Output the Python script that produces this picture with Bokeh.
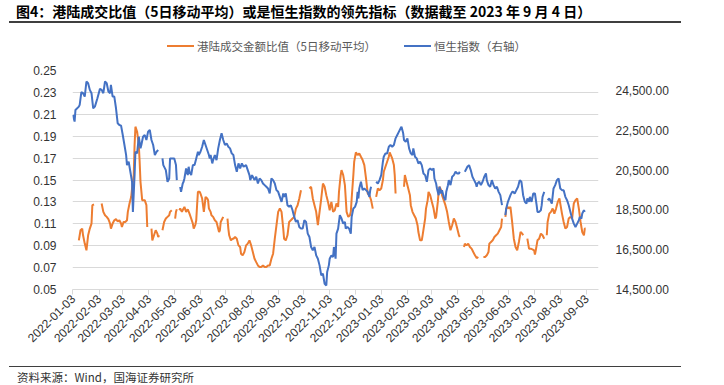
import math
import numpy as np
import pandas as pd
from bokeh.plotting import figure
from bokeh.layouts import column
from bokeh.models import (Range1d, LinearAxis, FixedTicker, DatetimeTickFormatter,
                          NumeralTickFormatter, Div)
from bokeh.embed import file_html
from bokeh.resources import INLINE

# ---------------- texts ----------------
title_text = "图4：港陆成交比值（5日移动平均）或是恒生指数的领先指标（数据截至 2023 年 9 月 4 日）"
source_text = "资料来源：Wind，国海证券研究所"
ratio_name = "港陆成交金额比值（5日移动平均）"
hsi_name = "恒生指数（右轴）"

# ---------------- axes ----------------
x_tick_labels = ["2022-01-03", "2022-02-03", "2022-03-03", "2022-04-03", "2022-05-03",
                 "2022-06-03", "2022-07-03", "2022-08-03", "2022-09-03", "2022-10-03",
                 "2022-11-03", "2022-12-03", "2023-01-03", "2023-02-03", "2023-03-03",
                 "2023-04-03", "2023-05-03", "2023-06-03", "2023-07-03", "2023-08-03",
                 "2023-09-03"]
left_ticks = [0.05, 0.07, 0.09, 0.11, 0.13, 0.15, 0.17, 0.19, 0.21, 0.23, 0.25]
right_ticks = [14500, 16500, 18500, 20500, 22500, 24500]

# ---------------- series: HK/mainland turnover ratio (5d MA) ----------------
ratio_dates = [
    "2022-01-10", "2022-01-12", "2022-01-14", "2022-01-15", "2022-01-17", "2022-01-19", "2022-01-21", "2022-01-23", "2022-01-25", "2022-01-26", "2022-01-28",
    "2022-02-01", "2022-02-06", "2022-02-08", "2022-02-10", "2022-02-12", "2022-02-14", "2022-02-16", "2022-02-17", "2022-02-19", "2022-02-21", "2022-02-23", "2022-02-25", "2022-02-27",
    "2022-03-01", "2022-03-02", "2022-03-04", "2022-03-06", "2022-03-08", "2022-03-09", "2022-03-11", "2022-03-13", "2022-03-14", "2022-03-16", "2022-03-17", "2022-03-18", "2022-03-20", "2022-03-22", "2022-03-23", "2022-03-24", "2022-03-26", "2022-03-28", "2022-03-29", "2022-03-31",
    "2022-04-01", "2022-04-03", "2022-04-06", "2022-04-07", "2022-04-09", "2022-04-11", "2022-04-13", "2022-04-14", "2022-04-15", "2022-04-17", "2022-04-19", "2022-04-21", "2022-04-23", "2022-04-25", "2022-04-27", "2022-04-28", "2022-04-30",
    "2022-05-02", "2022-05-04", "2022-05-05", "2022-05-06", "2022-05-08", "2022-05-09", "2022-05-10", "2022-05-12", "2022-05-14", "2022-05-15", "2022-05-17", "2022-05-19", "2022-05-21", "2022-05-23", "2022-05-25", "2022-05-26", "2022-05-28", "2022-05-29", "2022-05-30", "2022-05-31",
    "2022-06-02", "2022-06-03", "2022-06-05", "2022-06-06", "2022-06-07", "2022-06-08", "2022-06-09", "2022-06-11", "2022-06-12", "2022-06-13", "2022-06-15", "2022-06-16", "2022-06-18", "2022-06-20", "2022-06-22", "2022-06-23", "2022-06-25", "2022-06-26", "2022-06-27", "2022-06-29", "2022-06-30",
    "2022-07-02", "2022-07-05", "2022-07-06", "2022-07-07", "2022-07-09", "2022-07-11", "2022-07-12", "2022-07-14", "2022-07-16", "2022-07-18", "2022-07-20", "2022-07-21", "2022-07-23", "2022-07-25", "2022-07-27", "2022-07-29", "2022-07-31",
    "2022-08-02", "2022-08-04", "2022-08-06", "2022-08-08", "2022-08-10", "2022-08-12", "2022-08-14", "2022-08-16", "2022-08-18", "2022-08-20", "2022-08-22", "2022-08-24", "2022-08-26", "2022-08-28", "2022-08-30",
    "2022-09-01", "2022-09-03", "2022-09-05", "2022-09-07", "2022-09-09", "2022-09-10", "2022-09-12", "2022-09-14", "2022-09-16", "2022-09-18", "2022-09-20", "2022-09-22", "2022-09-24", "2022-09-26", "2022-09-28", "2022-09-30",
    "2022-10-02", "2022-10-10", "2022-10-12", "2022-10-14", "2022-10-16", "2022-10-18", "2022-10-20", "2022-10-22", "2022-10-24", "2022-10-26", "2022-10-28", "2022-10-30",
    "2022-11-01", "2022-11-03", "2022-11-05", "2022-11-07", "2022-11-09", "2022-11-11", "2022-11-13", "2022-11-14", "2022-11-16", "2022-11-17", "2022-11-19", "2022-11-21", "2022-11-22", "2022-11-23", "2022-11-25", "2022-11-27", "2022-11-28", "2022-11-29",
    "2022-12-01", "2022-12-02", "2022-12-04", "2022-12-06", "2022-12-08", "2022-12-10", "2022-12-12", "2022-12-14", "2022-12-16", "2022-12-18", "2022-12-20", "2022-12-22", "2022-12-24", "2022-12-26", "2022-12-28", "2022-12-30",
    "2023-01-01", "2023-01-03", "2023-01-05", "2023-01-06", "2023-01-08", "2023-01-10", "2023-01-12", "2023-01-13", "2023-01-16", "2023-01-18", "2023-01-19", "2023-01-20", "2023-01-23", "2023-01-30", "2023-01-31",
    "2023-02-02", "2023-02-04", "2023-02-06", "2023-02-07", "2023-02-09", "2023-02-11", "2023-02-13", "2023-02-15", "2023-02-16", "2023-02-18", "2023-02-20", "2023-02-21", "2023-02-24", "2023-02-25", "2023-02-27", "2023-02-28",
    "2023-03-02", "2023-03-04", "2023-03-06", "2023-03-08", "2023-03-09", "2023-03-11", "2023-03-12", "2023-03-13", "2023-03-15", "2023-03-16", "2023-03-18", "2023-03-20", "2023-03-22", "2023-03-24", "2023-03-26", "2023-03-28", "2023-03-30",
    "2023-04-01", "2023-04-03", "2023-04-05", "2023-04-06", "2023-04-08", "2023-04-11", "2023-04-12", "2023-04-14", "2023-04-16", "2023-04-18", "2023-04-20", "2023-04-22", "2023-04-24", "2023-04-26", "2023-04-28",
    "2023-05-01", "2023-05-04", "2023-05-06", "2023-05-08", "2023-05-10", "2023-05-11", "2023-05-13", "2023-05-15", "2023-05-17", "2023-05-19", "2023-05-21", "2023-05-23", "2023-05-25", "2023-05-26", "2023-05-28", "2023-05-30", "2023-05-31",
    "2023-06-02", "2023-06-03", "2023-06-05", "2023-06-07", "2023-06-09", "2023-06-11", "2023-06-13", "2023-06-15", "2023-06-17", "2023-06-19", "2023-06-20", "2023-06-22", "2023-06-25", "2023-06-27", "2023-06-29",
    "2023-07-01", "2023-07-03", "2023-07-04", "2023-07-05", "2023-07-07", "2023-07-09", "2023-07-11", "2023-07-13", "2023-07-15", "2023-07-17", "2023-07-18", "2023-07-19", "2023-07-21", "2023-07-23", "2023-07-25", "2023-07-27", "2023-07-29", "2023-07-31",
    "2023-08-02", "2023-08-03", "2023-08-05", "2023-08-07", "2023-08-09", "2023-08-11", "2023-08-13", "2023-08-15", "2023-08-17", "2023-08-19", "2023-08-21", "2023-08-23", "2023-08-25", "2023-08-27", "2023-08-29", "2023-08-31",
    "2023-09-01", "2023-09-02",
]
ratio_values = [
    0.0949, 0.1041, 0.1056, 0.0995, 0.0919, 0.0858, 0.0995, 0.1056, 0.1102, 0.1270, 0.1276,
    None, 0.1285, 0.1209, 0.1178, 0.1163, 0.1142, 0.1102, 0.1056, 0.1102, 0.1132, 0.1142, 0.1123, 0.1132,
    0.1102, 0.1071, 0.1117, 0.1117, 0.1132, 0.1209, 0.1285, 0.1346, 0.1422, 0.1545, 0.1819, 0.1987, 0.1941, 0.1819, 0.1667, 0.1483, 0.1316, 0.1316, 0.1316, 0.1270,
    0.1071, None, 0.1056, 0.0949, 0.0995, 0.1041, 0.1010, 0.0980, 0.0995, None, 0.1041, 0.1117, 0.1148, 0.1163, 0.1178, 0.1209, 0.1224,
    None, 0.1148, 0.1209, 0.1233, None, 0.1224, 0.1239, 0.1209, 0.1239, 0.1255, 0.1209, 0.1233, 0.1193, 0.1148, 0.1102, 0.1056, 0.1093, 0.1132, 0.1270, 0.1392,
    0.1392, 0.1377, 0.1331, 0.1270, 0.1209, 0.1270, 0.1346, 0.1331, 0.1316, 0.1239, 0.1209, 0.1178, 0.1163, 0.1132, 0.1117, 0.1087, 0.1025, 0.1041, 0.1117, 0.1148, 0.1163,
    None, 0.1148, 0.1056, 0.0995, 0.0949, 0.0964, 0.0964, 0.0980, 0.0964, 0.0903, 0.0888, 0.0827, 0.0812, 0.0842, 0.0903, 0.0919, 0.0949,
    0.0903, 0.0842, 0.0781, 0.0750, 0.0720, 0.0705, 0.0705, 0.0720, 0.0705, 0.0705, 0.0720, 0.0720, 0.0781, 0.0827, 0.0964,
    0.1087, 0.1209, 0.1239, 0.1209, 0.1056, 0.0964, 0.0949, 0.0995, 0.1117, 0.1132, 0.1148, 0.1163, 0.1239, 0.1270, 0.1331, 0.1407,
    None, 0.1422, 0.1438, 0.1331, 0.1270, 0.1209, 0.1087, 0.1209, 0.1331, 0.1468, 0.1438, 0.1361,
    0.1300, 0.1224, 0.1300, 0.1209, 0.1224, 0.1285, 0.1255, 0.1392, 0.1545, 0.1590, 0.1545, 0.1453, 0.1331, 0.1209, 0.1163, 0.1178, 0.1209, 0.1331,
    0.1545, 0.1667, 0.1752, 0.1728, 0.1743, 0.1712, 0.1682, 0.1636, 0.1514, 0.1377, 0.1361, 0.1316, 0.1239, None, 0.1346, 0.1422,
    0.1407, 0.1422, 0.1499, 0.1575, 0.1621, 0.1667, 0.1712, 0.1752, 0.1697, 0.1636, 0.1545, 0.1377, None, 0.1438, 0.1545,
    0.1483, 0.1422, 0.1361, 0.1270, 0.1209, 0.1178, 0.1148, 0.1087, 0.1025, 0.0949, 0.0949, 0.0995, 0.1148, 0.1239, 0.1316, 0.1392,
    0.1361, 0.1300, 0.1239, 0.1148, 0.1163, 0.1300, 0.1392, 0.1438, 0.1407, 0.1361, 0.1316, 0.1270, 0.1209, 0.1117, 0.1041, 0.1087, 0.1148,
    0.1117, 0.1056, 0.0995, 0.0980, None, 0.0888, 0.0919, 0.0903, 0.0919, 0.0888, 0.0873, 0.0842, 0.0812, 0.0787, 0.0797,
    None, 0.0797, 0.0797, 0.0812, 0.0842, 0.0919, 0.0934, 0.0949, 0.0980, 0.0995, 0.1010, 0.1041, 0.1071, 0.1148, None, 0.1163, 0.1239,
    0.1255, 0.1239, 0.1255, 0.1117, 0.0964, 0.0888, 0.0858, 0.0934, 0.1025, 0.1010, 0.0995, None, 0.0964, 0.0873, 0.0873,
    0.0867, 0.0858, 0.0818, 0.0858, 0.0949, 0.0964, 0.1010, 0.0995, 0.0964, None, 0.0995, 0.1117, 0.1193, 0.1209, 0.1239, 0.1193, 0.1239, 0.1300,
    0.1331, 0.1285, 0.1193, 0.1117, 0.1056, 0.1071, 0.1148, 0.1163, 0.1148, 0.1285, 0.1316, 0.1331, 0.1239, 0.1117, 0.1025, 0.0995,
    0.1056, 0.1056,
]

# ---------------- series: Hang Seng Index (right axis) ----------------
hsi_dates = [
    "2022-01-03", "2022-01-05", "2022-01-06", "2022-01-10", "2022-01-11", "2022-01-13", "2022-01-15", "2022-01-17", "2022-01-19", "2022-01-21", "2022-01-23", "2022-01-25", "2022-01-27", "2022-01-29",
    "2022-02-01", "2022-02-04", "2022-02-06", "2022-02-08", "2022-02-10", "2022-02-12", "2022-02-14", "2022-02-16", "2022-02-17", "2022-02-19", "2022-02-21", "2022-02-23", "2022-02-25", "2022-02-27",
    "2022-03-01", "2022-03-03", "2022-03-05", "2022-03-07", "2022-03-08", "2022-03-10", "2022-03-12", "2022-03-14", "2022-03-15", "2022-03-17", "2022-03-18", "2022-03-20", "2022-03-22", "2022-03-24", "2022-03-25", "2022-03-27", "2022-03-29", "2022-03-31",
    "2022-04-02", "2022-04-04", "2022-04-06", "2022-04-08", "2022-04-10", "2022-04-12", "2022-04-14", "2022-04-17", "2022-04-19", "2022-04-20", "2022-04-23", "2022-04-25", "2022-04-27", "2022-04-28",
    "2022-05-01", "2022-05-03", "2022-05-05", "2022-05-06", "2022-05-08", "2022-05-10", "2022-05-11", "2022-05-13", "2022-05-14", "2022-05-15", "2022-05-17", "2022-05-19", "2022-05-20", "2022-05-21", "2022-05-23", "2022-05-25", "2022-05-27", "2022-05-29", "2022-05-31",
    "2022-06-01", "2022-06-03", "2022-06-05", "2022-06-07", "2022-06-09", "2022-06-11", "2022-06-13", "2022-06-14", "2022-06-15", "2022-06-17", "2022-06-18", "2022-06-20", "2022-06-22", "2022-06-24", "2022-06-26", "2022-06-28", "2022-06-30",
    "2022-07-02", "2022-07-04", "2022-07-06", "2022-07-08", "2022-07-10", "2022-07-12", "2022-07-14", "2022-07-16", "2022-07-18", "2022-07-20", "2022-07-22", "2022-07-24", "2022-07-27", "2022-07-29", "2022-07-31",
    "2022-08-01", "2022-08-03", "2022-08-04", "2022-08-06", "2022-08-08", "2022-08-10", "2022-08-12", "2022-08-14", "2022-08-16", "2022-08-18", "2022-08-20", "2022-08-22", "2022-08-24", "2022-08-26", "2022-08-28", "2022-08-30",
    "2022-09-01", "2022-09-03", "2022-09-05", "2022-09-07", "2022-09-09", "2022-09-10", "2022-09-12", "2022-09-14", "2022-09-16", "2022-09-18", "2022-09-20", "2022-09-22", "2022-09-24", "2022-09-26", "2022-09-28", "2022-09-30",
    "2022-10-02", "2022-10-04", "2022-10-06", "2022-10-08", "2022-10-10", "2022-10-12", "2022-10-14", "2022-10-16", "2022-10-18", "2022-10-20", "2022-10-22", "2022-10-24", "2022-10-26", "2022-10-28", "2022-10-30", "2022-10-31",
    "2022-11-02", "2022-11-03", "2022-11-05", "2022-11-07", "2022-11-08", "2022-11-10", "2022-11-11", "2022-11-13", "2022-11-15", "2022-11-17", "2022-11-19", "2022-11-21", "2022-11-22", "2022-11-24", "2022-11-26", "2022-11-28", "2022-11-29",
    "2022-12-01", "2022-12-03", "2022-12-05", "2022-12-06", "2022-12-07", "2022-12-08", "2022-12-10", "2022-12-12", "2022-12-14", "2022-12-16", "2022-12-18", "2022-12-20", "2022-12-21", "2022-12-22", "2022-12-25", "2022-12-28", "2022-12-30",
    "2023-01-01", "2023-01-03", "2023-01-05", "2023-01-06", "2023-01-08", "2023-01-10", "2023-01-12", "2023-01-14", "2023-01-16", "2023-01-18", "2023-01-20", "2023-01-22", "2023-01-24", "2023-01-26", "2023-01-27", "2023-01-29", "2023-01-30",
    "2023-02-01", "2023-02-03", "2023-02-05", "2023-02-07", "2023-02-09", "2023-02-10", "2023-02-12", "2023-02-14", "2023-02-16", "2023-02-18", "2023-02-20", "2023-02-22", "2023-02-24", "2023-02-26", "2023-02-28",
    "2023-03-02", "2023-03-04", "2023-03-06", "2023-03-07", "2023-03-09", "2023-03-10", "2023-03-12", "2023-03-13", "2023-03-15", "2023-03-16", "2023-03-18", "2023-03-20", "2023-03-21", "2023-03-23", "2023-03-24", "2023-03-26", "2023-03-28", "2023-03-30",
    "2023-04-01", "2023-04-03", "2023-04-05", "2023-04-06", "2023-04-08", "2023-04-12", "2023-04-14", "2023-04-15", "2023-04-17", "2023-04-19", "2023-04-21", "2023-04-23", "2023-04-25", "2023-04-26", "2023-04-27", "2023-04-29",
    "2023-05-01", "2023-05-03", "2023-05-05", "2023-05-07", "2023-05-08", "2023-05-10", "2023-05-12", "2023-05-14", "2023-05-16", "2023-05-18", "2023-05-20", "2023-05-22", "2023-05-24", "2023-05-26", "2023-05-28", "2023-05-30", "2023-05-31",
    "2023-06-02", "2023-06-05", "2023-06-07", "2023-06-08", "2023-06-10", "2023-06-12", "2023-06-14", "2023-06-16", "2023-06-18", "2023-06-19", "2023-06-20", "2023-06-22", "2023-06-24", "2023-06-25", "2023-06-27", "2023-06-28", "2023-06-30",
    "2023-07-02", "2023-07-04", "2023-07-06", "2023-07-07", "2023-07-09", "2023-07-11", "2023-07-12", "2023-07-13", "2023-07-15", "2023-07-17", "2023-07-19", "2023-07-21", "2023-07-23", "2023-07-24", "2023-07-26", "2023-07-28", "2023-07-30",
    "2023-08-01", "2023-08-03", "2023-08-05", "2023-08-07", "2023-08-09", "2023-08-11", "2023-08-13", "2023-08-15", "2023-08-17", "2023-08-19", "2023-08-21", "2023-08-23", "2023-08-25", "2023-08-26", "2023-08-28", "2023-08-29", "2023-08-31",
    "2023-09-01",
]
hsi_values = [
    23267, 22932, 23519, 23687, 23771, 24409, 24359, 24191, 24947, 24863, 24527, 24359, 23603, 23687,
    24107, 24577, 24527, 24359, 24947, 24863, 24443, 24359, 24779, 24191, 24191, 23603, 22848, 22764,
    22730, 22260, 21756, 21253, 20749, 20917, 20413, 19910, 18399, 20245, 21421, 21337, 22176, 21589, 21756, 22176, 22260, 22008,
    22428, 22512, 22008, 21756, 21253, 21421, 21505, None, 21085, 20749, 20497, 19910, 20077, 21085,
    21085, 21085, 20749, 19993, None, 19658, 19406, 19826, 19910, 20077, 20581, 20245, 20665, 20413, 20245, 20749, 20749, 21085, 21421,
    21253, 21421, 21672, 22008, 21756, 21505, 21253, 21085, 21253, 20833, 21001, 21253, 21001, 21589, 22008, 22344, 22008,
    21756, 21840, 21672, 21589, 21337, 21253, 20749, 20413, 20833, 20581, 20833, 20665, 20749, 20497, 20245,
    19993, 20245, 20161, 19993, 20161, 19826, 20077, 19993, 19826, 19742, 19658, 19574, 19322, 20077, 19993, 19826,
    19490, 19406, 19154, 18902, 19322, 19154, 19322, 18734, 18650, 18734, 18482, 18146, 17895, 17979, 17643, 17559,
    17559, 17979, 17895, 17307, 17139, 16635, 16468, 16635, 16216, 16048, 15712, 15208, 15292, 14789, 14705, 15376,
    15712, 16048, 16216, 16132, 16635, 16048, 17307, 17559, 18230, 18063, 17811, 17895, 17559, 17643, 17559, 17307, 18146,
    18566, 18650, 18902, 19406, 19070, 19574, 19910, 19490, 19574, 19490, 19406, 19154, 19490, 19658, None, 19910, 19826,
    19993, 20245, 20917, 21169, 21337, 21337, 21672, 21756, 21672, 21756, 22092, 22260, 22428, 22596, 22680, 22344, 22008,
    21924, 22092, 21589, 21337, 21253, 21589, 21169, 21085, 20833, 20917, 20749, 20329, 20245, 19910, 20497,
    20581, 20497, 20581, 20077, 19826, 19574, 19238, 19658, 19322, 19490, 19154, 18986, 19406, 19742, 19993, 19742, 20161, 20245,
    20413, 20329, 20329, 20413, None, 20413, 20581, 20665, 20749, 20497, 20161, 19993, 19826, 19658, 19826, 19910,
    19742, 19910, 20161, 20329, 19993, 19742, 19658, 19993, 19742, 19574, 19658, 19406, 19238, 18734, None, 18230, 18566,
    18902, 19238, 19406, 19406, 19322, 19490, 19658, 19993, 19910, 19574, 19238, 18902, 18818, 19070, 18902, 19154, 18902,
    19322, 19322, 18734, 18398, 18398, 18482, 18734, 19154, 19406, None, 18986, 19070, 18902, 18818, 19574, 19742, 19993,
    20077, 19574, 19490, 19490, 19154, 18986, 18734, 18398, 18063, 17811, 17643, 17811, 17979, 18146, 18063, 18315, 18482,
    18398,
]

assert len(ratio_dates) == len(ratio_values)
assert len(hsi_dates) == len(hsi_values)

# ---------------- styles ----------------
ORANGE = "#ED7D31"
BLUE = "#4472C4"
GRID = "#D9D9D9"
AXIS_TEXT = "#333333"
LATIN = "Liberation Sans"
CJK = "Noto Sans CJK SC"

PAGE_W = 724
TOP_H, FIG_H, BOT_H = 58, 297, 30          # stacked: header / chart / footer
FL, FT, FW, FH = 72, 12, 526, 219          # frame inside the chart figure

# ---------------- header: title, rule, legend ----------------
header_html = f"""
<div style="position:relative;width:{PAGE_W}px;height:{TOP_H}px;">
  <div style="position:absolute;left:16px;top:3px;line-height:16px;white-space:nowrap;
              font-family:'{CJK}';font-size:14px;font-weight:bold;color:#000;">{title_text}</div>
  <div style="position:absolute;left:9px;top:21px;width:672px;height:0;border-top:2px solid #3F3F3F;"></div>
  <div style="position:absolute;left:167px;top:45px;width:27px;height:0;border-top:2px solid {ORANGE};"></div>
  <div style="position:absolute;left:197px;top:38px;line-height:16px;white-space:nowrap;
              font-family:'{CJK}';font-size:11.5px;color:#595959;">{ratio_name}</div>
  <div style="position:absolute;left:404px;top:45px;width:27px;height:0;border-top:2px solid {BLUE};"></div>
  <div style="position:absolute;left:434px;top:38px;line-height:16px;white-space:nowrap;
              font-family:'{CJK}';font-size:11.5px;color:#595959;">{hsi_name}</div>
</div>
"""
header = Div(text=header_html, width=PAGE_W, height=TOP_H, margin=(0, 0, 0, 0))

# ---------------- footer: rule, source ----------------
footer_html = f"""
<div style="position:relative;width:{PAGE_W}px;height:{BOT_H}px;">
  <div style="position:absolute;left:9px;top:11px;width:672px;height:0;border-top:1.5px solid #3F3F3F;"></div>
  <div style="position:absolute;left:17px;top:14px;line-height:16px;white-space:nowrap;
              font-family:'{CJK}';font-size:11.5px;color:#333;">{source_text}</div>
</div>
"""
footer = Div(text=footer_html, width=PAGE_W, height=BOT_H, margin=(0, 0, 0, 0))

# ---------------- chart ----------------
p = figure(width=PAGE_W, height=FIG_H, output_backend="svg", toolbar_location=None,
           x_axis_type="datetime",
           x_range=Range1d(pd.Timestamp("2022-01-02 12:00"), pd.Timestamp("2023-09-17 06:00")),
           y_range=Range1d(0.05, 0.25),
           min_border_left=FL, min_border_top=FT,
           min_border_right=PAGE_W - FL - FW, min_border_bottom=FIG_H - FT - FH,
           margin=(0, 0, 0, 0))
p.outline_line_color = None
p.background_fill_color = "white"
p.border_fill_color = "white"

p.xgrid.grid_line_color = None
p.ygrid.ticker = FixedTicker(ticks=left_ticks)
p.ygrid.grid_line_color = GRID
p.ygrid.grid_line_width = 1

ly = p.yaxis[0]
ly.ticker = FixedTicker(ticks=left_ticks)
ly.formatter = NumeralTickFormatter(format="0.00")
ly.axis_line_color = None
ly.major_tick_line_color = None
ly.minor_tick_line_color = None
ly.major_label_standoff = 10
ly.major_label_text_font = LATIN
ly.major_label_text_font_size = "12px"
ly.major_label_text_color = AXIS_TEXT

p.extra_y_ranges = {"hsi": Range1d(14500, 25500)}
ry = LinearAxis(y_range_name="hsi", ticker=FixedTicker(ticks=right_ticks),
                formatter=NumeralTickFormatter(format="0,0.00"))
ry.axis_line_color = None
ry.major_tick_line_color = None
ry.minor_tick_line_color = None
ry.major_label_standoff = 11
ry.major_label_text_font = LATIN
ry.major_label_text_font_size = "12px"
ry.major_label_text_color = AXIS_TEXT
p.add_layout(ry, "right")

x_ticks = [pd.Timestamp(s).value / 1e6 for s in x_tick_labels]
bx = p.xaxis[0]
bx.ticker = FixedTicker(ticks=x_ticks)
fmt = "%Y-%m-%d"
bx.formatter = DatetimeTickFormatter(milliseconds=fmt, seconds=fmt, minsec=fmt, minutes=fmt,
                                     hourmin=fmt, hours=fmt, days=fmt, months=fmt, years=fmt)
bx.major_label_orientation = math.pi / 4
bx.axis_line_color = GRID
bx.major_tick_line_color = GRID
bx.major_tick_in = 0
bx.major_tick_out = 5
bx.minor_tick_line_color = None
bx.major_label_standoff = 2
bx.major_label_text_font = LATIN
bx.major_label_text_font_size = "12px"
bx.major_label_text_color = AXIS_TEXT

p.line(pd.to_datetime(ratio_dates), np.array(ratio_values, dtype=float),
       line_color=ORANGE, line_width=2)
p.line(pd.to_datetime(hsi_dates), np.array(hsi_values, dtype=float),
       line_color=BLUE, line_width=2, y_range_name="hsi")

layout = column(header, p, footer, spacing=0)
open("out.html", "w").write(file_html(layout, INLINE))
